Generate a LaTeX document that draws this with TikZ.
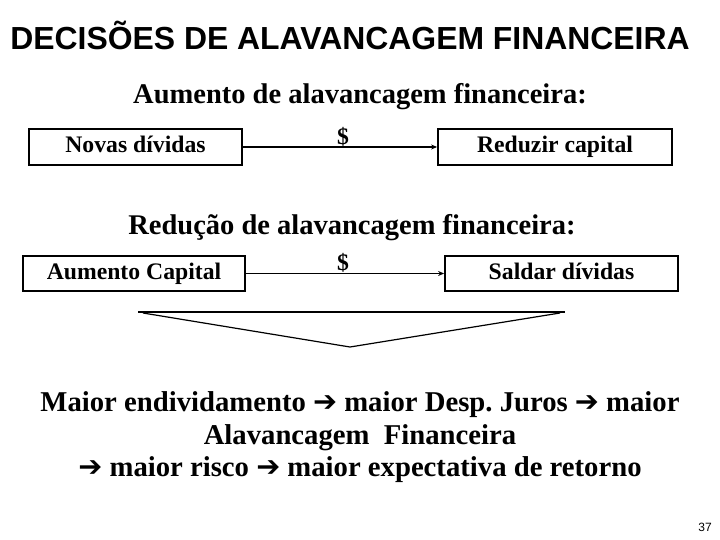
\documentclass[tikz,border=0pt]{standalone}
\usepackage{fontspec}
\setmainfont{Liberation Serif}
\newfontfamily\arialf{Liberation Sans}
\newfontfamily\dejavuf{DejaVu Sans}
\usetikzlibrary{arrows.meta}
\frenchspacing
\newcommand{\rarr}{{\dejavuf\char"2794}}
\tikzset{
  box/.style={draw, line width=1.8pt, inner sep=0pt, minimum height=36pt, text height=16pt, text depth=5pt, font=\fontsize{23.7}{28}\selectfont\bfseries},
  link/.style={line width=1.2pt, -{Stealth[length=6pt,width=5pt]}},
  heading/.style={anchor=base, inner sep=0pt, font=\fontsize{28.5}{32}\selectfont\bfseries},
  body/.style={anchor=base, inner sep=0pt, font=\fontsize{28.7}{33}\selectfont\bfseries},
  dollar/.style={anchor=base, inner sep=0pt, font=\fontsize{23.7}{28}\selectfont\bfseries}
}
\begin{document}
\begin{tikzpicture}[x=1pt,y=-1pt]
\useasboundingbox (0,0) rectangle (720,540);
\node[anchor=base, inner sep=0pt, font=\arialf\fontsize{31.9}{36}\selectfont\bfseries] (title) at (350,49.5) {DECISÕES DE ALAVANCAGEM FINANCEIRA};
\node[heading] (h1) at (360,104) {Aumento de alavancagem financeira:};
\node[box, minimum width=213pt] (b1) at (135.5,147) {Novas dívidas};
\node[box, minimum width=234pt] (b2) at (555,147) {Reduzir capital};
\draw[link] (b1.east) -- (b2.west);
\node[dollar] (d1) at (343,145) {\$};
\node[heading] (h2) at (352,234) {Redução de alavancagem financeira:};
\node[box, minimum width=222pt, minimum height=35pt] (b3) at (134,273.5) {Aumento Capital};
\node[box, minimum width=233pt, minimum height=35pt] (b4) at (561.5,273.5) {Saldar dívidas};
\draw[link] (b3.east) -- (b4.west);
\node[dollar] (d2) at (343,270) {\$};
\draw[line width=1.2pt] (138,312) -- (565,312);
\draw[line width=1.2pt, line join=round] (143,313) -- (350,347) -- (560,313);
\node[body] (l1) at (360,411.5) {Maior endividamento \rarr{} maior Desp. Juros \rarr{} maior};
\node[body] (l2) at (360,444) {Alavancagem\ \ Financeira};
\node[body] (l3) at (360,476) {\rarr{} maior risco \rarr{} maior expectativa de retorno};
\node[anchor=base, inner sep=0pt, font=\arialf\fontsize{12}{14}\selectfont] (pg) at (705,531) {37};
\end{tikzpicture}
\end{document}
